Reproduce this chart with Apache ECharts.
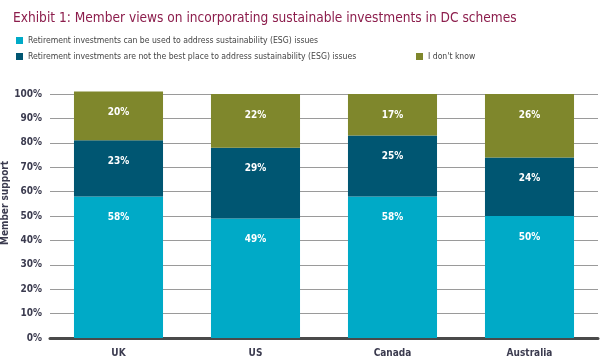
<!DOCTYPE html>
<html><head><meta charset="utf-8">
<script src="https://cdn.jsdelivr.net/npm/echarts@6/dist/echarts.min.js"></script>
<style>html,body{margin:0;padding:0;background:#fff}#c{width:610px;height:364px}</style>
</head><body><div id="c"></div>
<script>
const categories = ['UK', 'US', 'Canada', 'Australia'];
const canUse = [58, 49, 58, 50];
const notBest = [23, 29, 25, 24];
const dontKnow = [20, 22, 17, 26];
const seriesNames = [
  'Retirement investments can be used to address sustainability (ESG) issues',
  'Retirement investments are not the best place to address sustainability (ESG) issues',
  "I don't know"
];
const yTicks = [0, 10, 20, 30, 40, 50, 60, 70, 80, 90, 100];
const colors = ['#00AAC7', '#005672', '#7F872C'];
const narrow = '"DejaVu Sans Condensed", "DejaVu Sans"';

const chart = echarts.init(document.getElementById('c'));
const lbl = {show: true, position: 'insideTop', distance: 16, color: '#fff', fontFamily: narrow, fontWeight: 'bold', fontSize: 10, formatter: p => p.value + '%'};
const legendText = {color: '#444', fontFamily: narrow, fontSize: 8.6};
const legendBase = {itemWidth: 7, itemHeight: 7, icon: 'rect', itemGap: 6, textStyle: legendText};
chart.setOption({
  animation: false,
  title: {text: 'Exhibit 1: Member views on incorporating sustainable investments in DC schemes', left: 8, top: 6,
    textStyle: {color: '#8C1D4C', fontFamily: narrow, fontWeight: 'normal', fontSize: 13.6}},
  legend: [
    Object.assign({data: [seriesNames[0]], left: 11, top: 31}, legendBase),
    Object.assign({data: [seriesNames[1]], left: 11, top: 47}, legendBase),
    Object.assign({data: [seriesNames[2]], left: 411, top: 47}, legendBase)
  ],
  grid: {left: 50, right: 12, top: 94, bottom: 26, outerBoundsMode: 'none', containLabel: false},
  xAxis: {type: 'category', data: categories,
    axisLine: {lineStyle: {color: '#4a4a4a', width: 3}}, axisTick: {show: false},
    axisLabel: {color: '#3b3b4f', fontFamily: narrow, fontWeight: 'bold', fontSize: 10, margin: 10}},
  yAxis: {type: 'value', min: 0, max: 100, interval: 10, name: 'Member support', nameLocation: 'middle', nameGap: 40,
    nameMoveOverlap: false,
    nameTextStyle: {color: '#3b3b4f', fontFamily: narrow, fontWeight: 'bold', fontSize: 10, padding: [0, 0, 0, 26]},
    axisLine: {show: false}, axisTick: {show: false},
    splitLine: {lineStyle: {color: '#9a9a9a', width: 1}},
    axisLabel: {color: '#3b3b4f', fontFamily: narrow, fontWeight: 'bold', fontSize: 10, margin: 8,
      formatter: v => yTicks.includes(v) ? v + '%' : ''}},
  series: [
    {name: seriesNames[0], type: 'bar', stack: 's', data: canUse, barWidth: '65%', clip: false, itemStyle: {color: colors[0]}, label: lbl},
    {name: seriesNames[1], type: 'bar', stack: 's', data: notBest, clip: false, itemStyle: {color: colors[1]}, label: lbl},
    {name: seriesNames[2], type: 'bar', stack: 's', data: dontKnow, clip: false, itemStyle: {color: colors[2]}, label: lbl}
  ]
});
</script></body></html>
